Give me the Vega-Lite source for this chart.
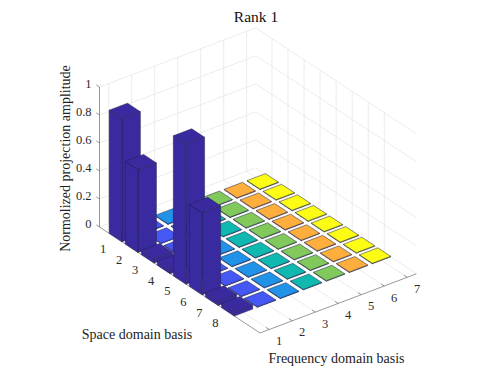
{
"$schema":"https://vega.github.io/schema/vega-lite/v6.json",
"width":498,"height":374,"padding":0,"autosize":{"type":"none"},"background":"white",
"view":{"stroke":null},
"title":{"text":"Rank 1","font":"Liberation Serif","fontSize":15.5,"fontWeight":"normal","color":"#111111","dx":7,"dy":25,"offset":0,"anchor":"middle"},
"datasets":{
"grid":[
{"line":"backF","tick":1},{"line":"backF","tick":2},{"line":"backF","tick":3},{"line":"backF","tick":4},{"line":"backF","tick":5},{"line":"backF","tick":6},{"line":"backF","tick":7},
{"line":"floorF","tick":1},{"line":"floorF","tick":2},{"line":"floorF","tick":3},{"line":"floorF","tick":4},{"line":"floorF","tick":5},{"line":"floorF","tick":6},{"line":"floorF","tick":7},
{"line":"backS","tick":1},{"line":"backS","tick":2},{"line":"backS","tick":3},{"line":"backS","tick":4},{"line":"backS","tick":5},{"line":"backS","tick":6},{"line":"backS","tick":7},{"line":"backS","tick":8},
{"line":"floorS","tick":1},{"line":"floorS","tick":2},{"line":"floorS","tick":3},{"line":"floorS","tick":4},{"line":"floorS","tick":5},{"line":"floorS","tick":6},{"line":"floorS","tick":7},{"line":"floorS","tick":8},
{"line":"wallL","tick":0},{"line":"wallL","tick":0.2},{"line":"wallL","tick":0.4},{"line":"wallL","tick":0.6},{"line":"wallL","tick":0.8},{"line":"wallL","tick":1},
{"line":"wallR","tick":0},{"line":"wallR","tick":0.2},{"line":"wallR","tick":0.4},{"line":"wallR","tick":0.6},{"line":"wallR","tick":0.8},{"line":"wallR","tick":1}
],
"axes":[
{"line":"axS","tick":0},{"line":"axF","tick":0},{"line":"axZ","tick":0},
{"line":"tS","tick":1},{"line":"tS","tick":2},{"line":"tS","tick":3},{"line":"tS","tick":4},{"line":"tS","tick":5},{"line":"tS","tick":6},{"line":"tS","tick":7},{"line":"tS","tick":8},
{"line":"tF","tick":1},{"line":"tF","tick":2},{"line":"tF","tick":3},{"line":"tF","tick":4},{"line":"tF","tick":5},{"line":"tF","tick":6},{"line":"tF","tick":7},
{"line":"tZ","tick":0},{"line":"tZ","tick":0.2},{"line":"tZ","tick":0.4},{"line":"tZ","tick":0.6},{"line":"tZ","tick":0.8},{"line":"tZ","tick":1}
],
"bars":[
{"space":1,"freq":7,"amplitude":0.004},{"space":1,"freq":6,"amplitude":0.004},{"space":1,"freq":5,"amplitude":0.004},{"space":1,"freq":4,"amplitude":0.004},{"space":1,"freq":3,"amplitude":0.004},{"space":1,"freq":2,"amplitude":0.004},{"space":1,"freq":1,"amplitude":0.88},
{"space":2,"freq":7,"amplitude":0.004},{"space":2,"freq":6,"amplitude":0.004},{"space":2,"freq":5,"amplitude":0.004},{"space":2,"freq":4,"amplitude":0.004},{"space":2,"freq":3,"amplitude":0.004},{"space":2,"freq":2,"amplitude":0.004},{"space":2,"freq":1,"amplitude":0.59},
{"space":3,"freq":7,"amplitude":0.004},{"space":3,"freq":6,"amplitude":0.004},{"space":3,"freq":5,"amplitude":0.004},{"space":3,"freq":4,"amplitude":0.004},{"space":3,"freq":3,"amplitude":0.004},{"space":3,"freq":2,"amplitude":0.004},{"space":3,"freq":1,"amplitude":0.03},
{"space":4,"freq":7,"amplitude":0.004},{"space":4,"freq":6,"amplitude":0.004},{"space":4,"freq":5,"amplitude":0.004},{"space":4,"freq":4,"amplitude":0.004},{"space":4,"freq":3,"amplitude":0.004},{"space":4,"freq":2,"amplitude":0.004},{"space":4,"freq":1,"amplitude":0.03},
{"space":5,"freq":7,"amplitude":0.004},{"space":5,"freq":6,"amplitude":0.004},{"space":5,"freq":5,"amplitude":0.004},{"space":5,"freq":4,"amplitude":0.004},{"space":5,"freq":3,"amplitude":0.004},{"space":5,"freq":2,"amplitude":0.004},{"space":5,"freq":1,"amplitude":1.0},
{"space":6,"freq":7,"amplitude":0.004},{"space":6,"freq":6,"amplitude":0.004},{"space":6,"freq":5,"amplitude":0.004},{"space":6,"freq":4,"amplitude":0.004},{"space":6,"freq":3,"amplitude":0.004},{"space":6,"freq":2,"amplitude":0.004},{"space":6,"freq":1,"amplitude":0.586},
{"space":7,"freq":7,"amplitude":0.004},{"space":7,"freq":6,"amplitude":0.004},{"space":7,"freq":5,"amplitude":0.004},{"space":7,"freq":4,"amplitude":0.004},{"space":7,"freq":3,"amplitude":0.004},{"space":7,"freq":2,"amplitude":0.004},{"space":7,"freq":1,"amplitude":0.03},
{"space":8,"freq":7,"amplitude":0.004},{"space":8,"freq":6,"amplitude":0.004},{"space":8,"freq":5,"amplitude":0.004},{"space":8,"freq":4,"amplitude":0.004},{"space":8,"freq":3,"amplitude":0.004},{"space":8,"freq":2,"amplitude":0.004},{"space":8,"freq":1,"amplitude":0.03}
],
"sLabels":[{"tick":1},{"tick":2},{"tick":3},{"tick":4},{"tick":5},{"tick":6},{"tick":7},{"tick":8}],
"fLabels":[{"tick":1},{"tick":2},{"tick":3},{"tick":4},{"tick":5},{"tick":6},{"tick":7}],
"zLabels":[{"tick":0},{"tick":0.2},{"tick":0.4},{"tick":0.6},{"tick":0.8},{"tick":1}]
},
"encoding":{
"x":{"field":"px","type":"quantitative","scale":{"domain":[0,498],"nice":false,"zero":false},"axis":{"title":"Frequency domain basis","titleFont":"Liberation Serif","titleFontSize":14,"titleFontWeight":"normal","titleColor":"#222222","titleX":336,"titleY":-16,"titleBaseline":"middle","labels":false,"ticks":false,"domain":false,"grid":false}},
"y":{"field":"py","type":"quantitative","scale":{"domain":[374,0],"nice":false,"zero":false},"axis":{"title":"Normolized projection amplitude","titleFont":"Liberation Serif","titleFontSize":14,"titleFontWeight":"normal","titleColor":"#222222","titleX":65,"titleY":158,"titleBaseline":"middle","labels":false,"ticks":false,"domain":false,"grid":false}}
},
"layer":[
{"data":{"name":"grid"},
"transform":[
{"calculate":"({backF:[0,datum.tick,0,0,datum.tick,1],floorF:[0,datum.tick,0,10,datum.tick,0],backS:[datum.tick,7.4,0,datum.tick,7.4,1],floorS:[datum.tick,0.6,0,datum.tick,7.4,0],wallL:[0,0.6,datum.tick,0,7.4,datum.tick],wallR:[0,7.4,datum.tick,10,7.4,datum.tick]})[datum.line]","as":"c"},
{"calculate":"99.5+16.05*datum.c[0]+23*(datum.c[1]-0.6)","as":"px"},
{"calculate":"227+10.6*datum.c[0]-8.7*(datum.c[1]-0.6)-140*datum.c[2]","as":"py"},
{"calculate":"99.5+16.05*datum.c[3]+23*(datum.c[4]-0.6)","as":"px2"},
{"calculate":"227+10.6*datum.c[3]-8.7*(datum.c[4]-0.6)-140*datum.c[5]","as":"py2"}
],
"mark":{"type":"rule","color":"#e4e4e4","strokeWidth":0.7},
"encoding":{"x2":{"field":"px2"},"y2":{"field":"py2"}}},
{"data":{"name":"axes"},
"transform":[
{"calculate":"({axS:[0,0.6,0,10,0.6,0],axF:[10,0.6,0,10,7.4,0],axZ:[0,0.6,0,0,0.6,1],tS:[datum.tick,0.6,0,datum.tick,0.75,0],tF:[10,datum.tick,0,9.8,datum.tick,0],tZ:[0,0.6,datum.tick,-0.2,0.6,datum.tick]})[datum.line]","as":"c"},
{"calculate":"99.5+16.05*datum.c[0]+23*(datum.c[1]-0.6)","as":"px"},
{"calculate":"227+10.6*datum.c[0]-8.7*(datum.c[1]-0.6)-140*datum.c[2]","as":"py"},
{"calculate":"99.5+16.05*datum.c[3]+23*(datum.c[4]-0.6)","as":"px2"},
{"calculate":"227+10.6*datum.c[3]-8.7*(datum.c[4]-0.6)-140*datum.c[5]","as":"py2"}
],
"mark":{"type":"rule","color":"#555555","strokeWidth":0.6},
"encoding":{"x2":{"field":"px2"},"y2":{"field":"py2"}}},
{"data":{"name":"bars"},
"transform":[
{"calculate":"[{k:'s',i:0,a:1,b:-1,c:0},{k:'s',i:1,a:1,b:1,c:0},{k:'s',i:2,a:1,b:1,c:1},{k:'s',i:3,a:1,b:-1,c:1},{k:'s',i:4,a:1,b:-1,c:0},{k:'f',i:0,a:-1,b:-1,c:0},{k:'f',i:1,a:1,b:-1,c:0},{k:'f',i:2,a:1,b:-1,c:1},{k:'f',i:3,a:-1,b:-1,c:1},{k:'f',i:4,a:-1,b:-1,c:0},{k:'t',i:0,a:-1,b:-1,c:1},{k:'t',i:1,a:1,b:-1,c:1},{k:'t',i:2,a:1,b:1,c:1},{k:'t',i:3,a:-1,b:1,c:1},{k:'t',i:4,a:-1,b:-1,c:1}]","as":"v"},
{"flatten":["v"]},
{"calculate":"datum.space+'-'+datum.freq+'-'+datum.v.k","as":"face"},
{"calculate":"datum.v.i","as":"vertex"},
{"calculate":"99.5+16.05*(datum.space+0.4*datum.v.a)+23*(datum.freq+0.4*datum.v.b-0.6)","as":"px"},
{"calculate":"227+10.6*(datum.space+0.4*datum.v.a)-8.7*(datum.freq+0.4*datum.v.b-0.6)-140*datum.amplitude*datum.v.c","as":"py"}
],
"mark":{"type":"line","stroke":"#20204a","strokeWidth":0.5,"strokeJoin":"round"},
"encoding":{
"detail":{"field":"face","type":"nominal"},
"order":{"field":"vertex","type":"quantitative"},
"fill":{"field":"freq","type":"ordinal","legend":null,"scale":{"domain":[1,2,3,4,5,6,7],"range":["#3a2aa0","#4558f5","#2092e8","#10b9b0","#80c95a","#feae3c","#fcfc14"]}}}},
{"data":{"name":"sLabels"},
"transform":[
{"calculate":"99.5+16.05*datum.tick-12.5","as":"px"},
{"calculate":"227+10.6*datum.tick+11.4","as":"py"}],
"mark":{"type":"text","font":"Liberation Serif","fontSize":12.5,"color":"#2a2a2a","align":"center","baseline":"middle"},
"encoding":{"text":{"field":"tick"}}},
{"data":{"name":"fLabels"},
"transform":[
{"calculate":"99.5+160.5+23*(datum.tick-0.6)+9.8","as":"px"},
{"calculate":"227+106-8.7*(datum.tick-0.6)+11.5","as":"py"}],
"mark":{"type":"text","font":"Liberation Serif","fontSize":12.5,"color":"#2a2a2a","align":"center","baseline":"middle"},
"encoding":{"text":{"field":"tick"}}},
{"data":{"name":"zLabels"},
"transform":[
{"calculate":"99.5-8","as":"px"},
{"calculate":"227-140*datum.tick-3","as":"py"}],
"mark":{"type":"text","font":"Liberation Serif","fontSize":12.5,"color":"#2a2a2a","align":"right","baseline":"middle"},
"encoding":{"text":{"field":"tick"}}},
{"data":{"values":[{"label":"Space domain basis"}]},
"transform":[
{"calculate":"99.5+16.05*4.5-34.7","as":"px"},
{"calculate":"227+10.6*4.5+60.3","as":"py"}],
"mark":{"type":"text","font":"Liberation Serif","fontSize":14,"color":"#222222","align":"center","baseline":"middle"},
"encoding":{"text":{"field":"label"}}}
]
}
